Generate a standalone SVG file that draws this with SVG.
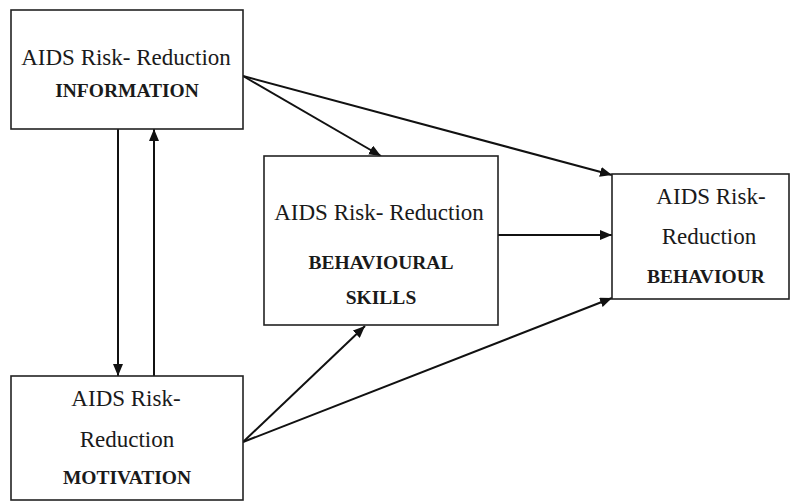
<svg xmlns="http://www.w3.org/2000/svg" width="791" height="501" viewBox="0 0 791 501">
<style>
.box{fill:#fff;stroke:#222;stroke-width:1.6}
.t{font-family:"Liberation Serif","Times New Roman",serif;font-size:23px;fill:#1a1a1a;text-anchor:middle}
.b{font-family:"Liberation Serif","Times New Roman",serif;font-size:19.5px;font-weight:bold;fill:#1a1a1a;text-anchor:middle}
.c{stroke:#111;stroke-width:2;fill:none;marker-end:url(#ah)}
</style>
<defs>
<marker id="ah" viewBox="0 0 12 10" refX="12" refY="5" markerWidth="12" markerHeight="10" markerUnits="userSpaceOnUse" orient="auto">
<path d="M0,0 L12,5 L0,10 Z" fill="#111"/>
</marker>
</defs>
<rect width="791" height="501" fill="#fff"/>
<g id="connectors">
<line class="c" x1="118" y1="129" x2="118" y2="376"/>
<line class="c" x1="154" y1="376" x2="154" y2="129"/>
<line class="c" x1="243" y1="76" x2="381" y2="156"/>
<line class="c" x1="243" y1="76" x2="612" y2="175"/>
<line class="c" x1="498" y1="235" x2="612" y2="235"/>
<line class="c" x1="243" y1="442" x2="365" y2="326"/>
<line class="c" x1="243" y1="442" x2="612" y2="298"/>
</g>
<g id="information">
<rect class="box" x="11" y="10" width="232" height="119"/>
<text class="t" x="126" y="65">AIDS Risk- Reduction</text>
<text class="b" x="127" y="97">INFORMATION</text>
</g>
<g id="motivation">
<rect class="box" x="11" y="376" width="232" height="124"/>
<text class="t" x="126" y="406">AIDS Risk-</text>
<text class="t" x="127" y="447">Reduction</text>
<text class="b" x="127" y="484">MOTIVATION</text>
</g>
<g id="skills">
<rect class="box" x="264" y="156" width="234" height="169"/>
<text class="t" x="379" y="220">AIDS Risk- Reduction</text>
<text class="b" x="381" y="269">BEHAVIOURAL</text>
<text class="b" x="381" y="304">SKILLS</text>
</g>
<g id="behaviour">
<rect class="box" x="612" y="174" width="177" height="125"/>
<text class="t" x="711" y="204">AIDS Risk-</text>
<text class="t" x="709" y="244">Reduction</text>
<text class="b" x="706" y="283">BEHAVIOUR</text>
</g>
</svg>
